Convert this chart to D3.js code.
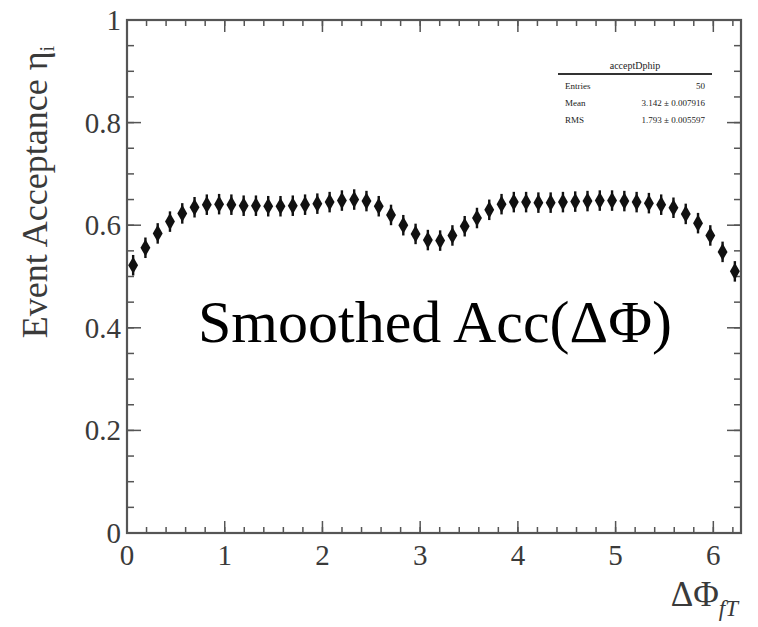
<!DOCTYPE html>
<html>
<head>
<meta charset="utf-8">
<script src="https://cdn.jsdelivr.net/npm/d3@7"></script>
<style>
  body { margin: 0; background: #fff; }
  svg text { font-family: "Liberation Serif", "DejaVu Serif", serif; }
</style>
</head>
<body>
<div id="chart"></div>
<script>
'use strict'

// 50 bins over [0, 2pi]
const nBins = 50
const acceptance = [
  0.522, 0.556, 0.584, 0.607, 0.623, 0.635, 0.640, 0.641, 0.640, 0.638,
  0.638, 0.637, 0.637, 0.638, 0.640, 0.642, 0.645, 0.648, 0.650, 0.647,
  0.637, 0.620, 0.600, 0.583, 0.571, 0.570, 0.580, 0.598, 0.614, 0.630,
  0.641, 0.645, 0.645, 0.644, 0.644, 0.645, 0.646, 0.647, 0.648, 0.648,
  0.647, 0.645, 0.643, 0.640, 0.634, 0.622, 0.604, 0.580, 0.548, 0.510
]
const errors = acceptance.map(() => 0.02)
const xTicks = [0, 1, 2, 3, 4, 5, 6]
const yTicks = [0, 0.2, 0.4, 0.6, 0.8, 1]
const statsRows = [
  ['Entries', '50'],
  ['Mean', '3.142 \u00b1 0.007916'],
  ['RMS', '1.793 \u00b1 0.005597']
]

const W = 758, H = 627
const margin = {top: 20, right: 17, bottom: 94, left: 127}
const width = W - margin.left - margin.right,
      height = H - margin.top - margin.bottom

const svg = d3.select('#chart').append('svg')
  .attr('width', W).attr('height', H)

const g = svg.append('g')
  .attr('transform', 'translate(' + margin.left + ',' + margin.top + ')')

const x = d3.scaleLinear().domain([0, 2 * Math.PI]).range([0, width])
const y = d3.scaleLinear().domain([0, 1]).range([height, 0])

const axisCol = '#555'
const labelCol = '#3a3a3a'

// minor + major ticks, drawn inward on all four sides
const xMinor = d3.range(0, 6.3, 0.2)
const yMinor = d3.range(0, 1.0001, 0.05)

function tickLines(sel, vals, scale, len, horizontal) {
  vals.forEach(v => {
    if (horizontal) {
      sel.append('line').attr('x1', scale(v)).attr('x2', scale(v))
        .attr('y1', height).attr('y2', height - len)
      sel.append('line').attr('x1', scale(v)).attr('x2', scale(v))
        .attr('y1', 0).attr('y2', len)
    } else {
      sel.append('line').attr('y1', scale(v)).attr('y2', scale(v))
        .attr('x1', 0).attr('x2', len)
      sel.append('line').attr('y1', scale(v)).attr('y2', scale(v))
        .attr('x1', width).attr('x2', width - len)
    }
  })
}

const ticks = g.append('g').attr('stroke', axisCol).attr('stroke-width', 1.5)
tickLines(ticks, xMinor, x, 6, true)
tickLines(ticks, xTicks, x, 12, true)
tickLines(ticks, yMinor, y, 7, false)
tickLines(ticks, yTicks, y, 14, false)

g.append('rect')
  .attr('width', width).attr('height', height)
  .attr('fill', 'none').attr('stroke', axisCol).attr('stroke-width', 2.2)

// tick labels
g.append('g').selectAll('text').data(xTicks).join('text')
  .attr('x', d => x(d)).attr('y', height + 32)
  .attr('text-anchor', 'middle').attr('font-size', 29).attr('fill', labelCol)
  .text(d => d)

g.append('g').selectAll('text').data(yTicks).join('text')
  .attr('x', -6).attr('y', d => y(d) + 10)
  .attr('text-anchor', 'end').attr('font-size', 29).attr('fill', labelCol)
  .text(d => d3.format('')(d))

// axis titles
svg.append('text')
  .attr('transform', 'translate(47,192) rotate(-90)')
  .attr('text-anchor', 'middle').attr('font-size', 36).attr('fill', labelCol)
  .html('Event Acceptance η<tspan dy="7" font-size="20">i</tspan>')

svg.append('text')
  .attr('x', 738).attr('y', 606)
  .attr('text-anchor', 'end').attr('font-size', 35).attr('fill', labelCol)
  .html('ΔΦ<tspan dy="10" font-size="23" font-style="italic">fT</tspan>')

// data points with error bars
const pts = acceptance.map((v, i) => ({
  c: (i + 0.5) * 2 * Math.PI / nBins, v: v, e: errors[i]
}))

const pg = g.append('g')
pg.selectAll('line').data(pts).join('line')
  .attr('x1', d => x(d.c)).attr('x2', d => x(d.c))
  .attr('y1', d => y(d.v + d.e)).attr('y2', d => y(d.v - d.e))
  .attr('stroke', '#111').attr('stroke-width', 2.4)
pg.selectAll('path').data(pts).join('path')
  .attr('transform', d => 'translate(' + x(d.c) + ',' + y(d.v) + ')')
  .attr('d', d3.symbol(d3.symbolDiamond, 85))
  .attr('fill', '#111')

// stats box
const sb = svg.append('g').attr('font-size', 9).attr('fill', '#222')
sb.append('text').attr('x', 635).attr('y', 69).attr('text-anchor', 'middle')
  .attr('font-size', 10).text('acceptDphip')
sb.append('line').attr('x1', 558).attr('x2', 712).attr('y1', 74).attr('y2', 74)
  .attr('stroke', '#333').attr('stroke-width', 2)
statsRows.forEach((r, i) => {
  sb.append('text').attr('x', 565).attr('y', 89 + i * 17).text(r[0])
  sb.append('text').attr('x', 705).attr('y', 89 + i * 17)
    .attr('text-anchor', 'end').text(r[1])
})

// annotation
svg.append('text')
  .attr('x', 198).attr('y', 342)
  .attr('font-size', 60).attr('fill', '#000')
  .text('Smoothed Acc(ΔΦ)')
</script>
</body>
</html>
